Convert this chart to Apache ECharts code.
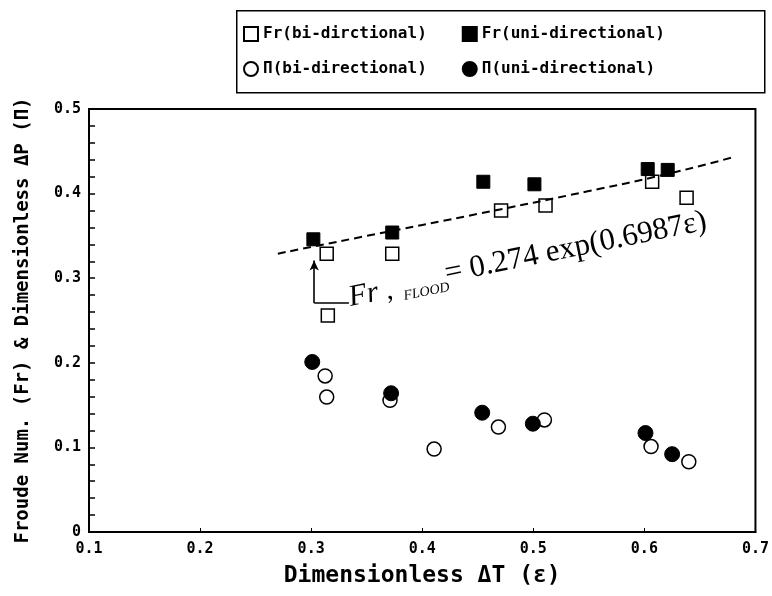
<!DOCTYPE html>
<html>
<head>
<meta charset="utf-8">
<script src="https://cdn.jsdelivr.net/npm/echarts@6/dist/echarts.min.js"></script>
<style>
  html, body { margin: 0; padding: 0; background: #fff; }
  #chart { width: 772px; height: 596px; }
</style>
</head>
<body>
<div id="chart"></div>
<script>
// values
var frBiX = [0.314, 0.373, 0.315, 0.471, 0.511, 0.607, 0.638];
var frBiY = [0.329, 0.329, 0.256, 0.380, 0.386, 0.414, 0.395];

var frUniX = [0.302, 0.373, 0.455, 0.501, 0.603, 0.621];
var frUniY = [0.346, 0.354, 0.414, 0.411, 0.429, 0.428];

var piBiX = [0.3126, 0.314, 0.371, 0.4107, 0.4686, 0.510, 0.606, 0.640];
var piBiY = [0.1845, 0.1595, 0.1556, 0.098, 0.124, 0.1325, 0.101, 0.083];

var piUniX = [0.301, 0.372, 0.454, 0.4996, 0.601, 0.625];
var piUniY = [0.201, 0.164, 0.141, 0.128, 0.117, 0.092];

// dashed flood curve
var fitX = [0.27, 0.35, 0.45, 0.55, 0.62, 0.68];
var fitY = [0.329, 0.350, 0.376, 0.403, 0.423, 0.443];

// arrow pointing at the curve
var arrowX = [0.334, 0.3027, 0.3027];
var arrowY = [0.2707, 0.2707, 0.321];

var xTicks = [0.1, 0.2, 0.3, 0.4, 0.5, 0.6, 0.7];
var yTicks = [0, 0.1, 0.2, 0.3, 0.4, 0.5];

var names = ['Fr(bi-dirctional)', 'Fr(uni-directional)', 'Π(bi-directional)', 'Π(uni-directional)'];

function pairs(xs, ys) {
  return xs.map(function (x, i) { return [x, ys[i]]; });
}

var mono = 'DejaVu Sans Mono';
var chart = echarts.init(document.getElementById('chart'), null, { renderer: 'canvas' });

var openStyle = { color: '#fff', borderColor: '#000', borderWidth: 1.5, opacity: 1 };
var fillStyle = { color: '#000', borderColor: '#000', borderWidth: 1, opacity: 1 };

var legendCommon = {
  left: 243,
  itemWidth: 14,
  itemHeight: 14,
  itemGap: 35,
  padding: 0,
  textStyle: { fontFamily: mono, fontSize: 16, color: '#000', fontWeight: 'bold' }
};

var option = {
  backgroundColor: '#fff',
  animation: false,
  legend: [
    Object.assign({ top: 26, data: [names[0], names[1]] }, legendCommon),
    Object.assign({ top: 61, data: [names[2], names[3]] }, legendCommon)
  ],
  grid: {
    left: 89, right: 14, top: 109, bottom: 64,
    show: true, borderColor: '#000', borderWidth: 2, backgroundColor: 'transparent'
  },
  xAxis: {
    type: 'value',
    min: 0.1, max: 0.7, interval: 0.1,
    name: 'Dimensionless ΔT (ε)',
    nameLocation: 'middle',
    nameGap: 33,
    nameTextStyle: { fontFamily: mono, fontSize: 23, fontWeight: 'bold', color: '#000' },
    axisLine: { show: true, lineStyle: { color: '#000', width: 2 } },
    axisTick: { show: true, inside: true, length: 4, lineStyle: { color: '#000', width: 1 } },
    splitLine: { show: false },
    axisLabel: {
      margin: 10, color: '#000', fontFamily: mono, fontSize: 15, fontWeight: 'bold',
      formatter: function (v) { return xTicks.indexOf(Math.round(v * 10) / 10) >= 0 ? String(Math.round(v * 10) / 10) : ''; }
    }
  },
  yAxis: {
    type: 'value',
    min: 0, max: 0.5, interval: 0.1,
    name: 'Froude Num. (Fr) & Dimensionless ΔP (Π)',
    nameLocation: 'middle',
    nameGap: 56,
    nameTextStyle: { fontFamily: mono, fontSize: 19, fontWeight: 'bold', color: '#000' },
    axisLine: { show: true, lineStyle: { color: '#000', width: 2 } },
    axisTick: { show: true, inside: true, length: 6, lineStyle: { color: '#000', width: 1.5 } },
    minorTick: { show: true, splitNumber: 5, length: 6, lineStyle: { color: '#000', width: 1.5 } },
    splitLine: { show: false },
    axisLabel: {
      margin: 8, color: '#000', fontFamily: mono, fontSize: 15, fontWeight: 'bold',
      formatter: function (v) { return yTicks.indexOf(Math.round(v * 10) / 10) >= 0 ? String(Math.round(v * 10) / 10) : ''; }
    }
  },
  series: [
    {
      name: names[0], type: 'scatter', symbol: 'rect', symbolSize: 13, z: 2,
      itemStyle: openStyle, data: pairs(frBiX, frBiY)
    },
    {
      name: names[2], type: 'scatter', symbol: 'circle', symbolSize: 14, z: 2,
      itemStyle: openStyle, data: pairs(piBiX, piBiY)
    },
    {
      name: 'fit', type: 'line', smooth: true, showSymbol: false, symbol: 'none', z: 3,
      lineStyle: { color: '#000', width: 2, type: [8, 5] },
      data: pairs(fitX, fitY),
      markLine: {
        silent: true, symbol: ['none', 'none'], label: { show: false },
        lineStyle: { color: '#000', width: 1.6, type: 'solid' },
        data: [
          [{ coord: [arrowX[0], arrowY[0]] }, { coord: [arrowX[1], arrowY[1]] }],
          [{ coord: [arrowX[1], arrowY[1]] }, { coord: [arrowX[2], arrowY[2]], symbol: 'arrow', symbolSize: [7, 10] }]
        ]
      }
    },
    {
      name: names[1], type: 'scatter', symbol: 'rect', symbolSize: 13, z: 4,
      itemStyle: fillStyle, data: pairs(frUniX, frUniY)
    },
    {
      name: names[3], type: 'scatter', symbol: 'circle', symbolSize: 15, z: 4,
      itemStyle: fillStyle, data: pairs(piUniX, piUniY)
    }
  ],
  graphic: [
    {
      type: 'rect', left: 236, top: 10, z: 0,
      shape: { width: 528, height: 82 },
      style: { fill: 'transparent', stroke: '#000', lineWidth: 1.5 }
    },
    {
      type: 'group', x: 352, y: 313, rotation: 0.2, z: 10,
      children: [
        { type: 'text', x: 0, y: 0, style: { text: 'Fr', font: 'italic 30px "Liberation Serif"', fill: '#000', verticalAlign: 'bottom' } },
        { type: 'text', x: 37, y: 0, style: { text: ',', font: '28px "Liberation Serif"', fill: '#000', verticalAlign: 'bottom' } },
        { type: 'text', x: 54, y: 1, style: { text: 'FLOOD', font: 'italic 14px "Liberation Serif"', fill: '#000', verticalAlign: 'bottom' } },
        { type: 'text', x: 99, y: -4, style: { text: '= 0.274 exp(0.6987ε)', font: '31px "Liberation Serif"', fill: '#000', verticalAlign: 'bottom' } }
      ]
    }
  ]
};

chart.setOption(option);
</script>
</body>
</html>
